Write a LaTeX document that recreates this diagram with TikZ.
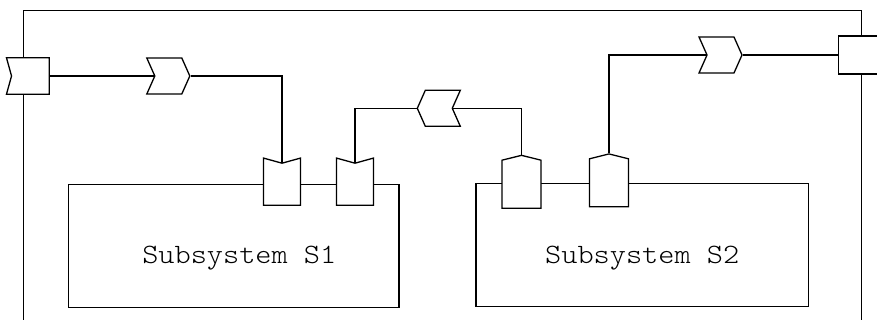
\documentclass[tikz,border=0pt]{standalone}
\usepackage{fontspec}
\newfontfamily\monotext{lmmonolt10-regular.otf}
\usepackage{graphicx}
\usepackage{tikz}
\usetikzlibrary{calc,shapes.symbols}
\tikzset{>=latex}

\begin{document}
\begin{tikzpicture}
         [
          x=1pt,y=-1pt,
          line width=1.3pt,
          subsys/.style={draw,inner sep=0pt,minimum width=#1,minimum height=123pt}, % 子系统方框
          sigbox/.style={draw,fill=white,shape=signal,inner sep=0pt},
          flow/.style={sigbox,minimum width=43pt,minimum height=36pt,signal pointer angle=132},
          inport/.style={sigbox,minimum width=37pt,minimum height=42pt,
                         signal to=nowhere,signal from=north,signal pointer angle=149},
          outport/.style={sigbox,minimum width=39pt,minimum height=48pt,
                         signal to=north,signal pointer angle=152},
          caption/.style={font=\monotext\fontsize{28}{30}\selectfont}
         ]
         \useasboundingbox (0,0) rectangle (877,320);
         \clip (0,0) rectangle (877,320);
         \draw (23.5,10.5) rectangle (861.7,360); % 外框
         % 两个子系统
         \node[subsys=330.7pt,label={[caption,xshift=5.6,yshift=-12]center:\scalebox{1.1}[1]{Subsystem S1}}]
              (S1) at (233.7,245.9) {};
         \node[subsys=332.3pt,label={[caption,yshift=-13]center:\scalebox{1.1}[1]{Subsystem S2}}]
              (S2) at (642.2,244.7) {};
         % 端口
         \node[sigbox,minimum width=42.7pt,minimum height=36.6pt,
               signal to=nowhere,signal from=west,signal pointer angle=149] (inL) at (30.35,76) {};
         \node[draw,fill=white,inner sep=0pt,minimum width=45pt,minimum height=38pt] (outR) at (861,55) {};
         \node[inport] (S1a) at (282,184.2) {};
         \node[inport] (S1b) at (355,184.2) {};
         \node[outport] (S2a) at (521.5,184.2) {};
         \node[outport] (S2b) at (609,182.8) {};
         % 流向
         \node[flow,signal from=west,signal to=east] (f1) at (168.3,76) {};
         \node[flow,signal from=east,signal to=west] (f2) at (438.8,108.3) {};
         \node[flow,signal from=west,signal to=east] (f3) at (720.5,55) {};
         % 连线
         \draw (inL) -- (f1);
         \draw (f1) -| (S1a);
         \draw (S1b) |- (f2);
         \draw (f2) -| (S2a);
         \draw (S2b) |- (f3);
         \draw (f3) -- (outR);
        \end{tikzpicture}
\end{document}
